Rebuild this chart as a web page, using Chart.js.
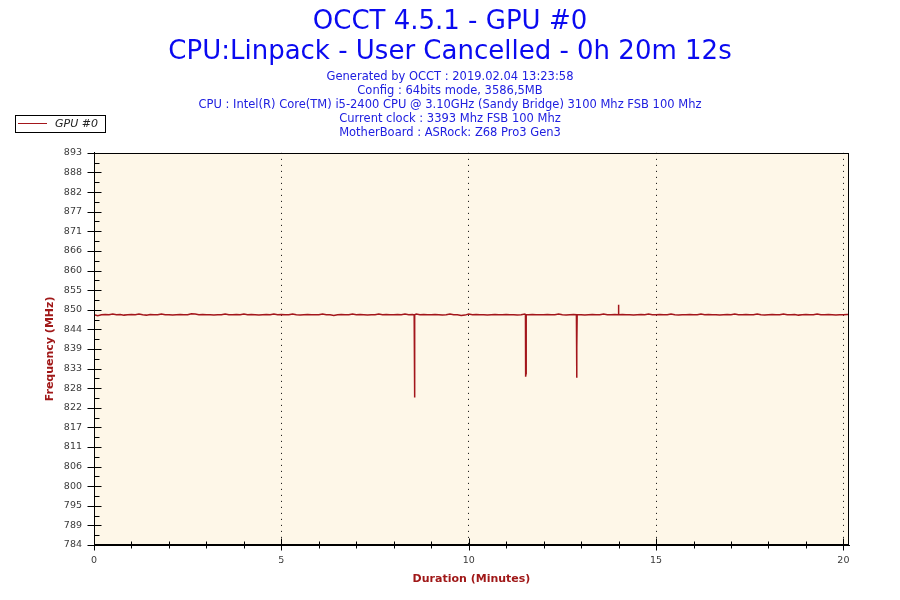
<!DOCTYPE html>
<html>
<head>
<meta charset="utf-8">
<title>OCCT 4.5.1 - GPU #0</title>
<script src="https://cdn.jsdelivr.net/npm/chart.js@4.4.1/dist/chart.umd.min.js"></script>
<style>
  html, body { margin: 0; padding: 0; background: #fff; }
  #wrap { width: 900px; height: 600px; }
</style>
</head>
<body>
<div id="wrap"><canvas id="gpuChart" width="900" height="600"></canvas></div>
<script>
// Chart texts
const titleLines = ["OCCT 4.5.1 - GPU #0", "CPU:Linpack - User Cancelled - 0h 20m 12s"]
const infoLines = [
  "Generated by OCCT : 2019.02.04 13:23:58",
  "Config : 64bits mode, 3586,5MB",
  "CPU : Intel(R) Core(TM) i5-2400 CPU @ 3.10GHz (Sandy Bridge) 3100 Mhz FSB 100 Mhz",
  "Current clock : 3393 Mhz FSB 100 Mhz",
  "MotherBoard : ASRock: Z68 Pro3 Gen3",
]
const seriesName = "GPU #0"

// Axis ranges and labels
const yMin = 784
const yMax = 893
const yTickLabels = ["784", "789", "795", "800", "806", "811", "817", "822", "828", "833", "839",
  "844", "850", "855", "860", "866", "871", "877", "882", "888", "893"]
const xMax = 20.15
const xStep = 5

// GPU clock, one reading every 0.1 minute (MHz)
const sampleMinutes = 0.1
const freqBase = [
  848.0, 847.7, 848.0, 848.1, 848.0, 848.2, 848.0, 848.1, 847.9, 848.0,
  848.1, 848.0, 848.2, 848.0, 847.9, 848.1, 848.0, 848.0, 848.2, 848.0,
  848.0, 847.9, 848.0, 848.1, 848.0, 848.0, 848.3, 848.2, 848.0, 848.1,
  848.0, 848.0, 847.9, 848.0, 848.0, 848.2, 848.0, 848.0, 848.1, 848.0,
  848.2, 848.0, 848.1, 848.0, 847.9, 848.0, 848.1, 848.0, 848.2, 848.0,
  848.1, 848.0, 848.0, 848.2, 848.0, 847.9, 848.0, 848.1, 848.0, 848.0,
  848.0, 848.2, 848.0, 848.0, 847.8, 848.0, 848.1, 848.0, 848.0, 848.2,
  848.0, 848.1, 848.0, 847.9, 848.0, 848.0, 848.2, 848.0, 848.1, 848.0,
  848.0, 848.1, 848.0, 848.2, 848.0, 848.1, 848.2, 848.0, 848.1, 848.0,
  848.0, 848.1, 848.0, 847.9, 848.0, 848.2, 848.0, 848.0, 847.8, 847.9,
  848.2, 848.0, 848.1, 848.0, 848.0, 847.9, 848.0, 848.1, 848.0, 848.0,
  848.1, 848.0, 848.0, 847.9, 848.0, 848.2, 848.0, 848.1, 848.0, 848.0,
  848.0, 848.1, 848.0, 848.0, 848.2, 848.0, 847.9, 848.0, 848.1, 848.0,
  848.0, 847.9, 848.0, 848.1, 848.0, 848.0, 848.2, 848.0, 848.0, 848.1,
  848.0, 848.1, 848.0, 848.0, 847.9, 848.0, 848.1, 848.0, 848.2, 848.0,
  848.0, 848.1, 848.0, 848.0, 848.2, 848.0, 847.9, 848.0, 848.0, 848.1,
  848.0, 848.0, 848.2, 848.0, 848.1, 848.0, 848.0, 847.9, 848.0, 848.1,
  848.0, 848.2, 848.0, 848.0, 848.1, 848.0, 848.0, 848.2, 848.0, 847.9,
  848.0, 848.1, 848.0, 848.0, 848.2, 848.0, 848.0, 848.1, 847.9, 848.0,
  848.1, 848.0, 848.0, 848.2, 848.0, 848.0, 848.1, 848.0, 847.9, 848.0,
  848.0, 848.1, 848.0,
]

// short dips / bumps between the regular readings
const spikeMinutes = [8.545, 8.55, 8.56, 8.565, 11.515, 11.52, 11.53, 11.535,
  12.875, 12.88, 12.89, 12.895, 13.995, 14.0, 14.005]
const spikeMHz = [848.0, 825.0, 834.0, 848.0, 848.0, 830.8, 831.7, 848.0,
  848.0, 830.5, 839.0, 848.0, 848.0, 850.8, 848.0]

const lineColor = "#a3161b"
const plotBg = "#fef7e8"
const axisTitleColor = "#a01818"
const tickColor = "#3a3a3a"

function buildPoints() {
  const pts = freqBase.map((v, i) => ({ x: +(i * sampleMinutes).toFixed(3), y: v }))
  spikeMinutes.forEach((t, i) => pts.push({ x: t, y: spikeMHz[i] }))
  pts.sort((a, b) => a.x - b.x)
  return pts
}

// cream plot background + black frame
const plotFrame = {
  id: "plotFrame",
  beforeDraw(chart) {
    const { ctx, chartArea: a } = chart
    ctx.save()
    ctx.fillStyle = "#fff"
    ctx.fillRect(0, 0, chart.width, chart.height)
    ctx.fillStyle = plotBg
    ctx.fillRect(a.left, a.top, a.right - a.left, a.bottom - a.top)
    ctx.restore()
  },
  afterDraw(chart) {
    const { ctx, chartArea: a } = chart
    ctx.save()
    ctx.strokeStyle = "#000"
    ctx.lineWidth = 1
    ctx.strokeRect(Math.round(a.left) + 0.5, Math.round(a.top) + 0.5,
      Math.round(a.right - a.left) - 1, Math.round(a.bottom - a.top) - 1)
    ctx.restore()
  },
}

// major / minor tick marks crossing the axes
const tickMarks = {
  id: "tickMarks",
  afterDraw(chart) {
    const { ctx, chartArea: a } = chart
    const xs = chart.scales.x
    const ys = chart.scales.y
    ctx.save()
    ctx.strokeStyle = "#000"
    ctx.lineWidth = 1
    ctx.beginPath()
    const left = Math.round(a.left) + 0.5
    const bottom = Math.round(a.bottom) - 0.5
    ys.ticks.forEach((t, i) => {
      const y = Math.round(ys.getPixelForValue(t.value)) + 0.5
      ctx.moveTo(left - 7, y)
      ctx.lineTo(left + 7, y)
      if (i < ys.ticks.length - 1) {
        const ym = Math.round(ys.getPixelForValue((t.value + ys.ticks[i + 1].value) / 2)) + 0.5
        ctx.moveTo(left, ym)
        ctx.lineTo(left + 5, ym)
      }
    })
    for (let m = 0; m <= xs.max; m += 1) {
      const x = Math.round(xs.getPixelForValue(m)) + 0.5
      if (m % xStep === 0) {
        ctx.moveTo(x, bottom - 6)
        ctx.lineTo(x, bottom + 6)
      } else {
        ctx.moveTo(x, bottom - 3)
        ctx.lineTo(x, bottom + 4)
      }
    }
    ctx.stroke()
    ctx.restore()
  },
}

// small boxed legend in the top left corner
const legendBox = {
  id: "legendBox",
  afterDraw(chart) {
    const { ctx } = chart
    const ds = chart.data.datasets[0]
    ctx.save()
    ctx.fillStyle = "#fff"
    ctx.fillRect(16, 116, 90, 17)
    ctx.strokeStyle = "#000"
    ctx.lineWidth = 1
    ctx.strokeRect(15.5, 115.5, 90, 17)
    ctx.strokeStyle = ds.borderColor
    ctx.beginPath()
    ctx.moveTo(18, 123.5)
    ctx.lineTo(47, 123.5)
    ctx.stroke()
    ctx.fillStyle = "#222"
    ctx.font = "italic 11px 'DejaVu Sans'"
    ctx.textBaseline = "middle"
    ctx.fillText(ds.label, 55, 124)
    ctx.restore()
  },
}

Chart.defaults.font.family = "'DejaVu Sans', Verdana, sans-serif"

// same padding on both sides so the titles are centred on the page
const sidePad = 51

const gpuChart = new Chart(document.getElementById("gpuChart"), {
  type: "line",
  data: {
    datasets: [
      {
        label: seriesName,
        data: buildPoints(),
        borderColor: lineColor,
        borderWidth: 1.5,
        pointRadius: 0,
        tension: 0,
        fill: false,
      },
    ],
  },
  options: {
    responsive: false,
    animation: false,
    layout: { padding: { top: 0, right: sidePad, bottom: 0, left: sidePad } },
    plugins: {
      legend: { display: false },
      tooltip: { enabled: false },
      title: {
        display: true,
        text: titleLines,
        color: "#0a0af0",
        font: { size: 26, weight: "normal", lineHeight: 1.154 },
        padding: { top: 7, bottom: 2 },
      },
      subtitle: {
        display: true,
        text: infoLines,
        color: "#2020e0",
        font: { size: 11.5, lineHeight: 1.215 },
        padding: { top: 1, bottom: 13 },
      },
    },
    scales: {
      x: {
        type: "linear",
        min: 0,
        max: xMax,
        afterFit: (s) => { s.height = 55 },
        ticks: {
          stepSize: xStep,
          includeBounds: false,
          color: tickColor,
          font: { size: 9.5 },
          padding: 10,
        },
        grid: {
          drawTicks: false,
          lineWidth: 1,
          color: (c) => (c.tick && c.tick.value === 0 ? "rgba(0,0,0,0)" : "#000"),
        },
        border: { display: true, color: "#000", dash: [1, 5] },
        title: {
          display: true,
          text: "Duration (Minutes)",
          color: axisTitleColor,
          font: { size: 11, weight: "bold" },
          padding: { top: 0, bottom: 14 },
        },
      },
      y: {
        min: yMin,
        max: yMax,
        afterFit: (s) => { s.width = 94 - sidePad },
        afterBuildTicks: (s) => {
          s.ticks = yTickLabels.map((_, i) => ({ value: yMin + (i * (yMax - yMin)) / (yTickLabels.length - 1) }))
        },
        ticks: {
          autoSkip: false,
          color: tickColor,
          font: { size: 9.5 },
          padding: 12,
          callback: (v, i) => yTickLabels[i],
        },
        grid: { display: false, drawTicks: false },
        border: { display: true, color: "#000" },
        title: {
          display: true,
          text: "Frequency (MHz)",
          color: axisTitleColor,
          font: { size: 11, weight: "bold" },
          padding: { top: -7.6, bottom: 0 },
        },
      },
    },
  },
  plugins: [plotFrame, tickMarks, legendBox],
})
</script>
</body>
</html>
